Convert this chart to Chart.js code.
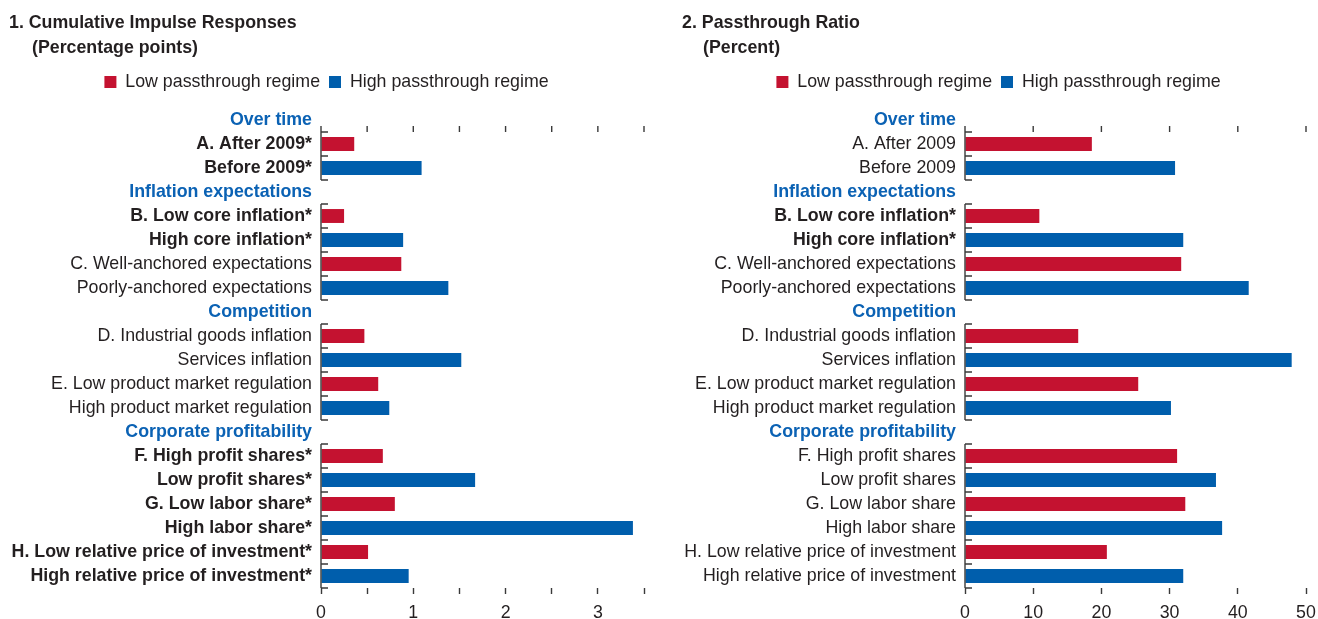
<!DOCTYPE html>
<html><head><meta charset="utf-8">
<script src="https://cdn.jsdelivr.net/npm/chart.js@4.4.1/dist/chart.umd.min.js"></script>
<style>
html,body{margin:0;padding:0;background:#fff;overflow:hidden;}
body{width:1318px;height:619px;position:relative;font-family:"Liberation Sans",Arial,sans-serif;color:#231f20;}
.panel{position:absolute;top:0;height:619px;overflow:hidden;}
.title{position:absolute;top:10px;font-weight:bold;font-size:17.8px;line-height:25px;white-space:nowrap;}
.title span{display:inline-block;}
canvas{position:absolute;left:0;top:0;}
</style></head><body>
<div class="panel" style="left:0;width:659px"><canvas id="c1" width="659" height="619"></canvas>
<div class="title" style="left:9px">1. Cumulative Impulse Responses<br><span style="margin-left:23px">(Percentage points)</span></div></div>
<div class="panel" style="left:659px;width:659px"><canvas id="c2" width="679" height="619"></canvas>
<div class="title" style="left:23px">2. Passthrough Ratio<br><span style="margin-left:21px">(Percent)</span></div></div>
<script>
const sectionHeaders = ['Over time','Inflation expectations','Competition','Corporate profitability'];
const seriesNames = ['Low passthrough regime','High passthrough regime'];

const categoriesLeft = ['Over time','A. After 2009*','Before 2009*','Inflation expectations','B. Low core inflation*','High core inflation*','C. Well-anchored expectations','Poorly-anchored expectations','Competition','D. Industrial goods inflation','Services inflation','E. Low product market regulation','High product market regulation','Corporate profitability','F. High profit shares*','Low profit shares*','G. Low labor share*','High labor share*','H. Low relative price of investment*','High relative price of investment*'];
const categoriesRight = ['Over time','A. After 2009','Before 2009','Inflation expectations','B. Low core inflation*','High core inflation*','C. Well-anchored expectations','Poorly-anchored expectations','Competition','D. Industrial goods inflation','Services inflation','E. Low product market regulation','High product market regulation','Corporate profitability','F. High profit shares','Low profit shares','G. Low labor share','High labor share','H. Low relative price of investment','High relative price of investment'];

const impulseLow  = [null,0.36,null,null,0.25,null,0.87,null,null,0.47,null,0.62,null,null,0.67,null,0.80,null,0.51,null];
const impulseHigh = [null,null,1.09,null,null,0.89,null,1.38,null,null,1.52,null,0.74,null,null,1.67,null,3.38,null,0.95];
const ratioLow    = [null,18.6,null,null,10.9,null,31.7,null,null,16.6,null,25.4,null,null,31.1,null,32.3,null,20.8,null];
const ratioHigh   = [null,null,30.8,null,null,32.0,null,41.6,null,null,47.9,null,30.2,null,null,36.8,null,37.7,null,32.0];

const impulseTickLabels = ['0','1','2','3'];
const ratioTickLabels = ['0','10','20','30','40','50'];

const RED = '#c41230', BLUE = '#005eac', HEAD = '#0b62b4', TXT = '#231f20', AXIS = '#3a3a3a';
const FONT = '"Liberation Sans",Arial,sans-serif';
const FS = 17.8;
Chart.defaults.font.family = FONT;
Chart.defaults.font.size = FS;
Chart.defaults.color = TXT;

const axisDecor = {
  id: 'axisDecor',
  afterDatasetsDraw(chart) {
    const {ctx} = chart; const x = chart.scales.x, y = chart.scales.y;
    const labels = chart.data.labels;
    const half = Math.abs(y.getPixelForValue(1) - y.getPixelForValue(0)) / 2;
    const x0 = x.getPixelForValue(0);
    ctx.save();
    ctx.strokeStyle = AXIS; ctx.lineWidth = 1.4;
    ctx.beginPath();
    const yTop = y.getPixelForValue(1) - half;
    x.ticks.forEach(t => { const px = x.getPixelForValue(t.value); ctx.moveTo(px, yTop - 6); ctx.lineTo(px, yTop); });
    let i = 0;
    while (i < labels.length) {
      if (sectionHeaders.includes(labels[i])) { i++; continue; }
      let j = i;
      while (j + 1 < labels.length && !sectionHeaders.includes(labels[j + 1])) j++;
      const top = y.getPixelForValue(i) - half, bot = y.getPixelForValue(j) + half;
      ctx.moveTo(x0, top); ctx.lineTo(x0, bot);
      for (let k = i; k <= j; k++) { const py = y.getPixelForValue(k) - half; ctx.moveTo(x0, py); ctx.lineTo(x0 + 7, py); }
      ctx.moveTo(x0, bot); ctx.lineTo(x0 + 7, bot);
      i = j + 1;
    }
    ctx.stroke(); ctx.restore();
  }
};

function makeChart(id, cats, low, high, max, step, tickLabels, padR, yWidth, rightGap) {
  return new Chart(document.getElementById(id), {
    type: 'bar',
    data: {
      labels: cats,
      datasets: [
        {label: seriesNames[0], data: low, backgroundColor: RED, borderWidth: 0, grouped: false, categoryPercentage: 1, barPercentage: 0.58},
        {label: seriesNames[1], data: high, backgroundColor: BLUE, borderWidth: 0, grouped: false, categoryPercentage: 1, barPercentage: 0.58}
      ]
    },
    options: {
      indexAxis: 'y', responsive: false, animation: false,
      layout: {padding: {top: 64.1, left: 0, right: padR, bottom: 0}},
      plugins: {
        tooltip: {enabled: false},
        legend: {position: 'top', labels: {boxWidth: 12, boxHeight: 12, padding: 9, color: TXT, font: {size: FS}}}
      },
      scales: {
        y: {
          type: 'category', offset: true, position: 'left',
          grid: {display: false, drawTicks: false, tickLength: 0}, border: {display: false},
          ticks: {
            autoSkip: false, padding: 9,
            color: c => sectionHeaders.includes(cats[c.index]) ? HEAD : TXT,
            font: c => { const l = cats[c.index]; return {size: FS, family: FONT, weight: (sectionHeaders.includes(l) || l.endsWith('*')) ? 'bold' : 'normal'}; }
          },
          afterFit: s => { s.width = yWidth; }
        },
        yRight: {
          axis: 'y', type: 'linear', position: 'right', display: true,
          grid: {display: false}, border: {display: false}, ticks: {display: false},
          afterFit: s => { s.width = rightGap; }
        },
        x: {
          min: 0, max: max, position: 'bottom',
          grid: {display: true, drawOnChartArea: false, drawTicks: true, tickLength: 6, tickColor: AXIS, tickWidth: 1.4},
          border: {display: false},
          ticks: {stepSize: step, padding: 8, color: TXT, maxRotation: 0, autoSkip: false,
            callback: v => tickLabels.includes(String(v)) ? String(v) : ''},
          afterFit: s => { s.height = 31; }
        },
        xTop: {
          position: 'top', axis: 'x', display: true,
          grid: {display: false}, border: {display: false}, ticks: {display: false},
          afterFit: s => { s.height = 7.1; }
        }
      }
    },
    plugins: [axisDecor]
  });
}

makeChart('c1', categoriesLeft, impulseLow, impulseHigh, 3.5, 0.5, impulseTickLabels, 6, 321, 9);
makeChart('c2', categoriesRight, ratioLow, ratioHigh, 50, 10, ratioTickLabels, 0, 306, 32);
</script>
</body></html>
